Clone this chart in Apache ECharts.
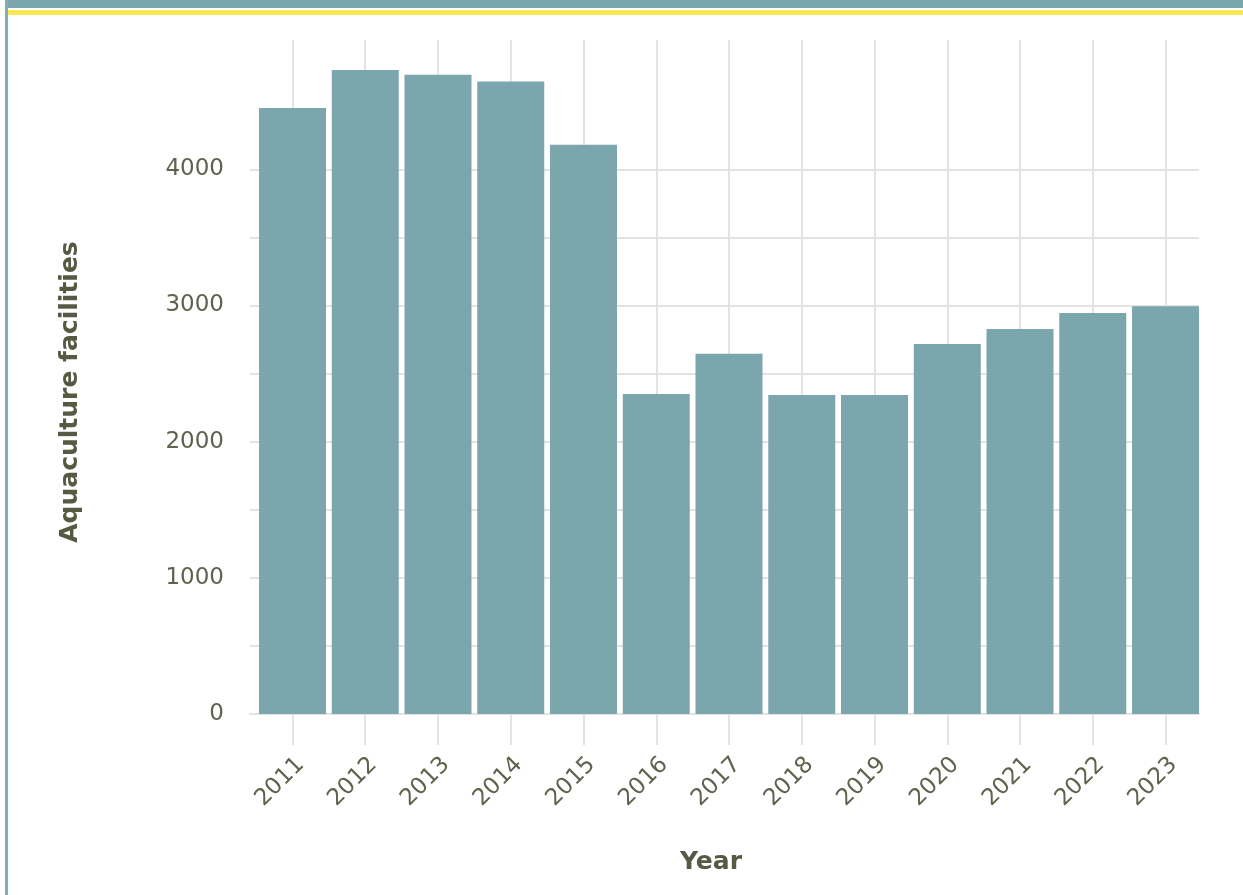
<!DOCTYPE html>
<html>
<head>
<meta charset="utf-8">
<title>Aquaculture facilities by year</title>
<script src="https://cdn.jsdelivr.net/npm/echarts@6/dist/echarts.min.js"></script>
<style>
  html, body { margin: 0; padding: 0; background: #ffffff; }
  #chart { width: 1243px; height: 895px; }
</style>
</head>
<body>
<div id="chart"></div>
<script>
// Number of aquaculture facilities per year
const years = [2011, 2012, 2013, 2014, 2015, 2016, 2017, 2018, 2019, 2020, 2021, 2022, 2023];
const facilities = [4450, 4730, 4695, 4645, 4180, 2350, 2645, 2342, 2342, 2717, 2827, 2945, 2995];

// Tick positions on the value axis
const yGridValues = [0, 500, 1000, 1500, 2000, 2500, 3000, 3500, 4000, 4500];
const yLabelValues = [0, 1000, 2000, 3000, 4000];

const teal = '#7BA6AE';
const yellow = '#F9E858';
const gridGrey = '#E3E3E3';
const labelColor = '#5F624C';
const titleColor = '#575A43';
const fontFamily = '"DejaVu Sans", Verdana, sans-serif';

const chart = echarts.init(document.getElementById('chart'), null, { renderer: 'canvas' });

chart.setOption({
  animation: false,
  backgroundColor: '#ffffff',
  grid: { left: 250, right: 44, top: 40, bottom: 181, containLabel: false },
  xAxis: {
    type: 'value',
    min: 2010.416,
    max: 2023.46,
    axisLine: { show: true, onZero: false, lineStyle: { color: gridGrey, width: 2 } },
    axisTick: {
      show: true,
      customValues: years,
      length: 31,
      lineStyle: { color: gridGrey, width: 2 }
    },
    splitLine: { show: true, lineStyle: { color: gridGrey, width: 2 } },
    axisLabel: {
      customValues: years,
      rotate: 45,
      align: 'right',
      verticalAlign: 'top',
      margin: 39,
      color: labelColor,
      fontSize: 23,
      fontFamily: fontFamily,
      formatter: v => String(Math.round(v))
    }
  },
  yAxis: {
    type: 'value',
    min: 0,
    max: 4950,
    axisLine: { show: false },
    axisTick: { show: false, customValues: yGridValues },
    splitLine: { show: true, showMaxLine: false, lineStyle: { color: gridGrey, width: 2 } },
    axisLabel: {
      customValues: yLabelValues,
      margin: 26,
      color: labelColor,
      fontSize: 23,
      fontFamily: fontFamily,
      formatter: v => String(Math.round(v))
    }
  },
  series: [{
    type: 'bar',
    name: 'Aquaculture facilities',
    barWidth: 67,
    itemStyle: { color: teal },
    data: years.map((y, i) => [y, facilities[i]])
  }],
  graphic: [
    // page frame: teal top band, yellow stripe, teal left rule
    { type: 'rect', shape: { x: 5, y: 0, width: 1238, height: 8 }, style: { fill: teal }, silent: true },
    { type: 'rect', shape: { x: 8, y: 10, width: 1235, height: 5 }, style: { fill: yellow }, silent: true },
    { type: 'rect', shape: { x: 5, y: 0, width: 3, height: 895 }, style: { fill: '#82ADB4' }, silent: true },
    {
      type: 'text',
      x: 70, y: 392,
      rotation: Math.PI / 2,
      style: {
        text: 'Aquaculture facilities',
        fill: titleColor,
        font: 'bold 25px ' + fontFamily,
        textAlign: 'center',
        textVerticalAlign: 'middle'
      }
    },
    {
      type: 'text',
      x: 711, y: 862,
      style: {
        text: 'Year',
        fill: titleColor,
        font: 'bold 25px ' + fontFamily,
        textAlign: 'center',
        textVerticalAlign: 'middle'
      }
    }
  ]
});
</script>
</body>
</html>
